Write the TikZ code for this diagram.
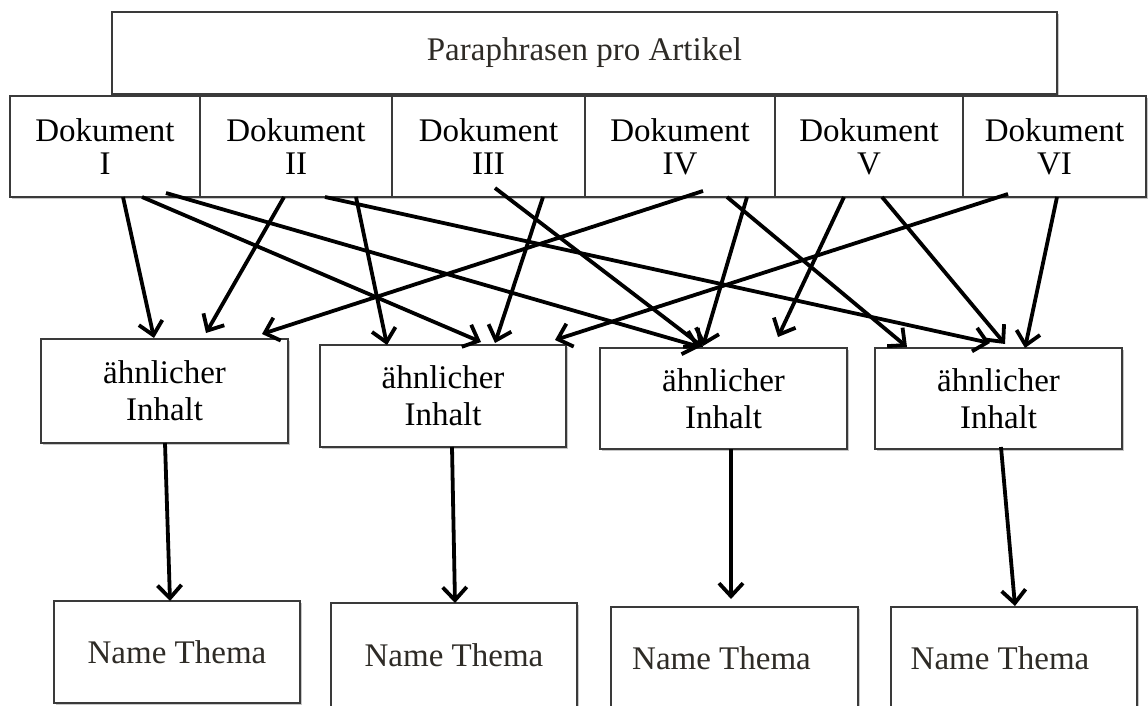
\documentclass[tikz,border=0pt]{standalone}
\usepackage{fontspec}
\setmainfont{Liberation Serif}
\usetikzlibrary{arrows.meta,shadows}
\definecolor{boxgray}{HTML}{3A3A3A}
\definecolor{textgray}{HTML}{2E2B26}
\begin{document}
\begin{tikzpicture}[x=1pt,y=-1pt,
  box/.style={draw=boxgray, line width=2.8pt, fill=white, inner sep=0pt, outer sep=0pt,
    align=center, text=black,
    drop shadow={shadow xshift=1.5pt, shadow yshift=-2pt, fill=black, opacity=0.22}},
  dokbox/.style={box, minimum height=101pt, font=\fontsize{33}{33}\selectfont},
  midbox/.style={box, minimum width=247pt, font=\fontsize{33}{37}\selectfont},
  namebox/.style={box, minimum width=246pt, minimum height=102pt, text=textgray, font=\fontsize{33}{37}\selectfont},
  arr/.style={line width=3.8pt, draw=black, -{Straight Barb[length=13pt,width=24pt]}}]
\useasboundingbox (0,0) rectangle (1148,706);

% top box
\node[box, minimum width=945pt, minimum height=82pt, text=textgray,
  font=\fontsize{33}{37}\selectfont] (top) at (584.5,53) {Paraphrasen pro Artikel};

% document boxes
\node[dokbox, minimum width=190pt] (d1) at (105,146.5)   {Dokument\\I};
\node[dokbox, minimum width=192pt] (d2) at (296,146.5)   {Dokument\\II};
\node[dokbox, minimum width=193pt] (d3) at (488.5,146.5) {Dokument\\III};
\node[dokbox, minimum width=190pt] (d4) at (680,146.5)   {Dokument\\IV};
\node[dokbox, minimum width=188pt] (d5) at (869,146.5)   {Dokument\\V};
\node[dokbox, minimum width=183pt] (d6) at (1054.5,146.5) {Dokument\\VI};

% middle boxes
\node[midbox, minimum height=104pt] (b1) at (164.5,391) {ähnlicher\\Inhalt};
\node[midbox, minimum height=102pt, minimum width=246pt] (b2) at (443,396) {ähnlicher\\Inhalt};
\node[midbox, minimum height=101pt] (b3) at (723.5,398.5) {ähnlicher\\Inhalt};
\node[midbox, minimum height=101pt] (b4) at (998.5,398.5) {ähnlicher\\Inhalt};

% bottom boxes
\node[namebox] (n1) at (177,652) {Name Thema};
\node[namebox, minimum height=104pt] (n2) at (454,655) {Name Thema};
\node[namebox, minimum width=247pt] (n3) at (734.5,658) {Name Thema\hspace{26pt}};
\node[namebox] (n4) at (1014,658) {Name Thema\hspace{28pt}};

% arrows from documents to similar-content boxes
\draw[arr] ([xshift=113pt]d1.south west) -- ([xshift=113pt,yshift=1pt]b1.north west);
\draw[arr] ([xshift=132pt]d1.south west) -- ([xshift=161pt,yshift=3pt]b2.north west);
\draw[arr] ([xshift=156pt,yshift=4pt]d1.south west) -- ([xshift=100pt,yshift=1pt]b3.north west);

\draw[arr] ([xshift=84pt]d2.south west) -- ([xshift=165pt,yshift=6pt]b1.north west);
\draw[arr] ([xshift=156pt]d2.south west) -- ([xshift=67pt,yshift=0pt]b2.north west);
\draw[arr] ([xshift=125pt]d2.south west) -- ([xshift=115pt,yshift=5pt]b4.north west);

\draw[arr] ([xshift=151pt]d3.south west) -- ([xshift=175pt,yshift=2pt]b2.north west);
\draw[arr] ([xshift=103pt,yshift=9pt]d3.south west) -- ([xshift=103pt,yshift=1pt]b3.north west);

\draw[arr] ([xshift=118pt,yshift=6pt]d4.south west) -- ([xshift=221pt,yshift=5pt]b1.north west);
\draw[arr] ([xshift=162pt]d4.south west) -- ([xshift=103pt,yshift=2pt]b3.north west);
\draw[arr] ([xshift=142pt]d4.south west) -- ([xshift=32pt,yshift=1pt]b4.north west);

\draw[arr] ([xshift=69pt]d5.south west) -- ([xshift=178pt,yshift=11pt]b3.north west);
\draw[arr] ([xshift=107pt]d5.south west) -- ([xshift=130pt,yshift=4pt]b4.north west);

\draw[arr] ([xshift=45pt,yshift=3pt]d6.south west) -- ([xshift=235pt,yshift=5pt]b2.north west);
\draw[arr] ([xshift=94pt]d6.south west) -- ([xshift=150pt,yshift=0pt]b4.north west);

% arrows from similar-content boxes to topic names
\draw[arr] ([xshift=124pt]b1.south west) -- ([xshift=116pt]n1.north west);
\draw[arr] ([xshift=132pt]b2.south west) -- ([xshift=124pt]n2.north west);
\draw[arr] ([xshift=131pt]b3.south west) -- ([xshift=120pt,yshift=8pt]n3.north west);
\draw[arr] ([xshift=126pt,yshift=2pt]b4.south west) -- ([xshift=124pt,yshift=1pt]n4.north west);
\end{tikzpicture}
\end{document}
